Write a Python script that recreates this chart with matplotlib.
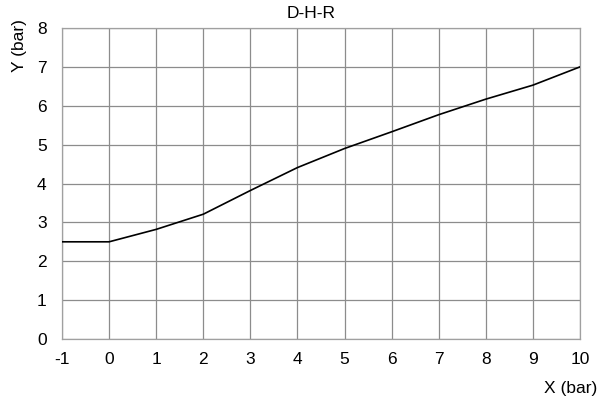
import matplotlib as mpl
mpl.use('Agg')
import matplotlib.pyplot as plt

x_vals = [-1, 0, 1, 2, 3, 4, 5, 6, 7, 8, 9, 10]
y_vals = [2.5, 2.5, 2.82, 3.21, 3.82, 4.41, 4.9, 5.33, 5.77, 6.17, 6.53, 7.0]
x_ticks = list(range(-1, 11))
y_ticks = list(range(0, 9))

mpl.rcParams['font.family'] = ['Liberation Sans', 'DejaVu Sans']
mpl.rcParams['font.size'] = 12.5
mpl.rcParams['axes.unicode_minus'] = False

fig = plt.figure(figsize=(6.06, 4.01), dpi=100)
ax = fig.add_axes([62/606, 62/401, 518/606, 311/401])

ax.plot(x_vals, y_vals, color='black', lw=1.2, zorder=3)

ax.set_xlim(-1, 10)
ax.set_ylim(0, 8)
ax.set_xticks(x_ticks)
ax.set_yticks(y_ticks)
ax.grid(True, color='#8c8c8c', lw=0.9)
ax.tick_params(length=0, labelsize=12.5)
ax.tick_params(axis='x', pad=9)
ax.tick_params(axis='y', pad=11)
for s in ax.spines.values():
    s.set_color('#a0a0a0')
    s.set_linewidth(0.9)

fig.text(311/606, 1 - 13/401, 'D-H-R', ha='center', va='center', fontsize=12.5)
fig.text(20/606, 1 - 46/401, 'Y (bar)', ha='center', va='center', rotation=90, fontsize=12.5)
fig.text(597/606, 1 - 388/401, 'X (bar)', ha='right', va='center', fontsize=12.5)

fig.savefig('out.png', dpi=100)
